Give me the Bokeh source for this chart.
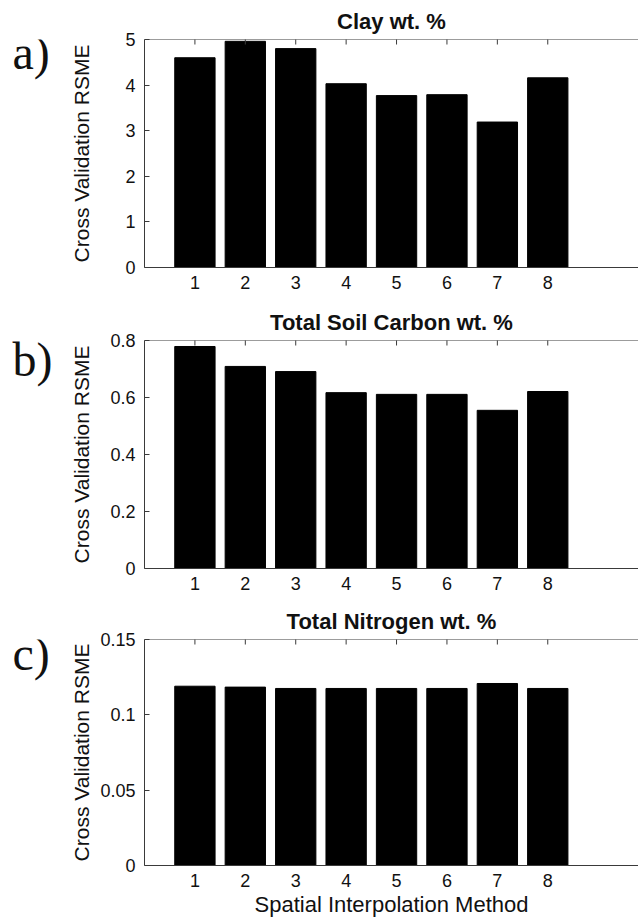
import math
from bokeh.plotting import figure
from bokeh.models import Range1d, FixedTicker, Span, Plot, Text, ColumnDataSource
from bokeh.core.properties import value
from bokeh.layouts import column, row
from bokeh.embed import file_html
from bokeh.resources import INLINE

# ---- data ----
methods = [1, 2, 3, 4, 5, 6, 7, 8]
clay_rmse = [4.60, 4.96, 4.80, 4.03, 3.77, 3.79, 3.19, 4.16]
carbon_rmse = [0.779, 0.709, 0.691, 0.617, 0.611, 0.611, 0.555, 0.621]
nitrogen_rmse = [0.119, 0.1184, 0.1175, 0.1175, 0.1175, 0.1175, 0.1208, 0.1175]

titles = ["Clay wt. %", "Total Soil Carbon wt. %", "Total Nitrogen wt. %"]
panel_letters = ["a)", "b)", "c)"]
y_tops = [5, 0.8, 0.15]
y_ticks = [[0, 1, 2, 3, 4, 5], [0, 0.2, 0.4, 0.6, 0.8], [0, 0.05, 0.1, 0.15]]
y_tick_labels = [["0", "1", "2", "3", "4", "5"],
                 ["0", "0.2", "0.4", "0.6", "0.8"],
                 ["0", "0.05", "0.1", "0.15"]]
y_label = "Cross Validation RSME"
x_label = "Spatial Interpolation Method"
series = [clay_rmse, carbon_rmse, nitrogen_rmse]

FONT = "Liberation Sans"
AX = "#3a3a3a"
TXT = "#111111"

LETTER_W = 62
fig_heights = [300, 300, 319]
borders_top = [39, 40, 39]
borders_bottom = [33, 32, 52]
label_standoffs = [29, 14, 4]
letter_pos = [17, 25, 20]


def make_letter(i):
    h = fig_heights[i]
    q = Plot(width=LETTER_W, height=h,
             x_range=Range1d(0, LETTER_W), y_range=Range1d(h, 0),
             output_backend="svg", toolbar_location=None, title=None,
             min_border=0, min_border_left=0, min_border_right=0,
             min_border_top=0, min_border_bottom=0,
             outline_line_color=None, background_fill_color="white",
             border_fill_color="white")
    src = ColumnDataSource(dict(x=[12], y=[letter_pos[i]], t=[panel_letters[i]]))
    q.add_glyph(src, Text(x="x", y="y", text="t",
                          text_font=value("Liberation Serif"), text_font_size="48px",
                          text_color=TXT, text_baseline="alphabetic", text_align="left"))
    return q


def make_panel(i):
    h = fig_heights[i]
    p = figure(width=638 - LETTER_W, height=h,
               x_range=Range1d(0, 9.8), y_range=Range1d(0, y_tops[i]),
               output_backend="svg", toolbar_location=None,
               min_border_left=144 - LETTER_W, min_border_right=0,
               min_border_top=borders_top[i], min_border_bottom=borders_bottom[i])
    p.outline_line_color = None
    p.xgrid.grid_line_color = None
    p.ygrid.grid_line_color = None
    p.background_fill_color = "white"
    p.border_fill_color = "white"

    p.vbar(x=methods, top=series[i], width=0.8,
           fill_color="black", line_color="black", line_width=1)

    # top edge of the box with inward ticks
    p.add_layout(Span(location=y_tops[i], dimension="width",
                      line_color=AX, line_width=1))
    p.scatter(x=methods, y=[y_tops[i]] * len(methods), marker="dash",
              angle=math.pi / 2, size=10, line_color=AX, line_width=1)

    # bottom axis
    xa = p.xaxis[0]
    xa.ticker = FixedTicker(ticks=methods)
    xa.major_tick_in = 0
    xa.major_tick_out = 0
    xa.minor_tick_in = 0
    xa.minor_tick_out = 0
    xa.axis_line_color = AX
    xa.major_label_text_font = FONT
    xa.major_label_text_font_size = "18px"
    xa.major_label_text_color = TXT
    xa.major_label_standoff = 8
    if i == 2:
        xa.axis_label = x_label
        xa.axis_label_text_font = FONT
        xa.axis_label_text_font_size = "22px"
        xa.axis_label_text_font_style = "normal"
        xa.axis_label_text_color = TXT
        xa.axis_label_standoff = 2

    # left axis
    ya = p.yaxis[0]
    ya.ticker = FixedTicker(ticks=y_ticks[i])
    ya.major_label_overrides = {t: s for t, s in zip(y_ticks[i], y_tick_labels[i])}
    ya.major_tick_in = 5
    ya.major_tick_out = 0
    ya.minor_tick_in = 0
    ya.minor_tick_out = 0
    ya.axis_line_color = AX
    ya.major_tick_line_color = AX
    ya.major_label_text_font = FONT
    ya.major_label_text_font_size = "18px"
    ya.major_label_text_color = TXT
    ya.major_label_standoff = 9
    ya.axis_label = y_label
    ya.axis_label_text_font = FONT
    ya.axis_label_text_font_size = "21px"
    ya.axis_label_text_font_style = "normal"
    ya.axis_label_text_color = TXT
    ya.axis_label_standoff = label_standoffs[i]

    # title
    p.title.text = titles[i]
    p.title.align = "center"
    p.title.text_font = FONT
    p.title.text_font_size = "22px"
    p.title.text_font_style = "bold"
    p.title.text_color = TXT
    p.title.standoff = 12
    return p


rows = [row(make_letter(i), make_panel(i), spacing=0) for i in range(3)]
layout = column(*rows, spacing=0)

open("out.html", "w").write(file_html(layout, INLINE))
